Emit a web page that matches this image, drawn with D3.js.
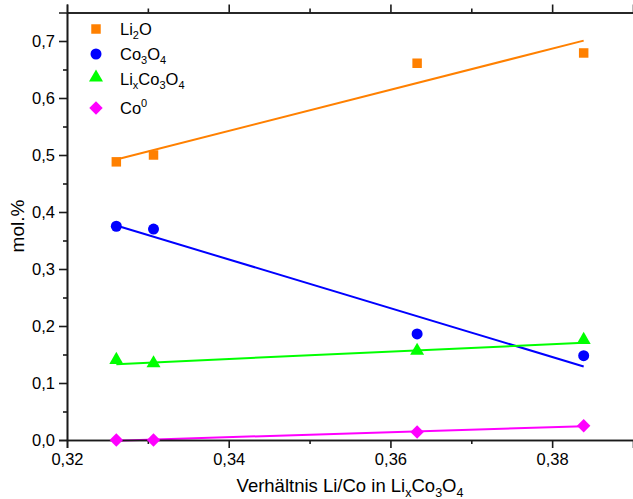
<!DOCTYPE html>
<html><head><meta charset="utf-8">
<script src="https://cdn.jsdelivr.net/npm/d3@7"></script>
<style>
body{margin:0;background:#fff;}
svg text{font-family:"Liberation Sans",Arial,sans-serif;fill:#000;}
</style></head>
<body>
<svg id="c" width="633" height="499"></svg>
<script>
const xValues = [0.3261, 0.3307, 0.3633, 0.3839];
const li2o = [0.488, 0.500, 0.661, 0.679];
const co3o4 = [0.375, 0.370, 0.186, 0.148];
const lixco3o4 = [0.138, 0.132, 0.154, 0.173];
const co0 = [0.000, 0.000, 0.014, 0.025];
const xTicks = [0.32, 0.34, 0.36, 0.38];
const xTickLabels = ["0,32", "0,34", "0,36", "0,38"];
const yTicks = [0, 0.1, 0.2, 0.3, 0.4, 0.5, 0.6, 0.7];
const yTickLabels = ["0,0", "0,1", "0,2", "0,3", "0,4", "0,5", "0,6", "0,7"];

const diamond = {draw(ctx, size){ const r = Math.sqrt(size/2); ctx.moveTo(0,-r); ctx.lineTo(r,0); ctx.lineTo(0,r); ctx.lineTo(-r,0); ctx.closePath(); }};

const series = [
  {name: [["Li",0],["2",1],["O",0]], values: li2o, color: "#FF8000", shape: d3.symbolSquare, size: 90},
  {name: [["Co",0],["3",1],["O",0],["4",1]], values: co3o4, color: "#0000FF", shape: d3.symbolCircle, size: 95},
  {name: [["Li",0],["x",1],["Co",0],["3",1],["O",0],["4",1]], values: lixco3o4, color: "#00FF00", shape: d3.symbolTriangle, size: 85},
  {name: [["Co",0],["0",-1]], values: co0, color: "#FF00FF", shape: diamond, size: 90}
];

const svg = d3.select("#c");
const x = d3.scaleLinear().domain([0.32, 0.39]).range([67, 633]);
const y = d3.scaleLinear().domain([0, 0.75]).range([440, 12.5]);

function fit(xs, ys){
  const mx = d3.mean(xs), my = d3.mean(ys);
  let sxy = 0, sxx = 0;
  xs.forEach((v,i)=>{sxy += (v-mx)*(ys[i]-my); sxx += (v-mx)*(v-mx);});
  const b = sxy/sxx, a = my - b*mx;
  return v => a + b*v;
}
const xmin = d3.min(xValues), xmax = d3.max(xValues);
series.forEach(s=>{
  const f = fit(xValues, s.values);
  svg.append("line")
    .attr("x1", x(xmin)).attr("y1", y(f(xmin)))
    .attr("x2", x(xmax)).attr("y2", y(f(xmax)))
    .attr("stroke", s.color).attr("stroke-width", 2);
});

const axisColor = "#1a1a1a";
const minorX = [0.33, 0.35, 0.37];
const minorY = [0.05, 0.15, 0.25, 0.35, 0.45, 0.55, 0.65];

const gx = svg.append("g").attr("transform", "translate(0,440)")
  .call(d3.axisBottom(x).tickValues(xTicks).tickFormat((d,i)=>xTickLabels[i]).tickSizeOuter(0).tickSize(8).tickPadding(5));
gx.append("g").call(d3.axisBottom(x).tickValues(minorX).tickFormat("").tickSize(4).tickSizeOuter(0));
const gt = svg.append("g").attr("transform", "translate(0,12.5)")
  .call(d3.axisTop(x).tickValues(xTicks).tickFormat("").tickSizeOuter(0).tickSize(8));
gt.append("g").call(d3.axisTop(x).tickValues(minorX).tickFormat("").tickSize(4).tickSizeOuter(0));
const gy = svg.append("g").attr("transform", "translate(67,0)")
  .call(d3.axisLeft(y).tickValues(yTicks).tickFormat((d,i)=>yTickLabels[i]).tickSizeOuter(0).tickSize(8).tickPadding(4));
gy.append("g").call(d3.axisLeft(y).tickValues(minorY).tickFormat("").tickSize(4).tickSizeOuter(0));

svg.selectAll(".domain").attr("stroke", axisColor).attr("stroke-width", 1.6);
svg.selectAll(".tick line").attr("stroke", axisColor).attr("stroke-width", 1.6);
svg.selectAll(".tick text").attr("font-size", 16.5).attr("font-family", "Liberation Sans, Arial, sans-serif").attr("fill", "#000");

// markers
series.forEach(s=>{
  svg.append("g").selectAll("path").data(s.values).join("path")
    .attr("transform", (d,i)=>`translate(${x(xValues[i])},${y(d) + (s.shape===d3.symbolTriangle ? -1.5 : 0)})`)
    .attr("d", d3.symbol().type(s.shape).size(s.size))
    .attr("fill", s.color);
});

function rich(t, parts, big, small, subOff, supOff){
  let cur = 0;
  parts.forEach(([txt, k])=>{
    const target = k===1 ? subOff : (k===-1 ? -supOff : 0);
    t.append("tspan").text(txt).attr("font-size", k ? small : big).attr("dy", target - cur);
    cur = target;
  });
}

// legend
const ly = [29, 54, 79, 108];
series.forEach((s,i)=>{
  svg.append("path")
    .attr("transform", `translate(96,${ly[i] + (s.shape===d3.symbolTriangle ? -1.5 : 0)})`)
    .attr("d", d3.symbol().type(s.shape).size(s.size))
    .attr("fill", s.color);
  const t = svg.append("text").attr("x", 120).attr("y", ly[i]+6);
  rich(t, s.name, 16.5, 11, 4, 7);
});

// axis titles
const xt = svg.append("text").attr("x", 350).attr("y", 492).attr("text-anchor", "middle");
rich(xt, [["Verhältnis Li/Co in Li",0],["x",1],["Co",0],["3",1],["O",0],["4",1]], 18.5, 12.5, 5, 0);
svg.append("text").attr("transform", "translate(24,226) rotate(-90)")
  .attr("text-anchor", "middle").attr("font-size", 19).text("mol.%");
</script>
</body></html>
